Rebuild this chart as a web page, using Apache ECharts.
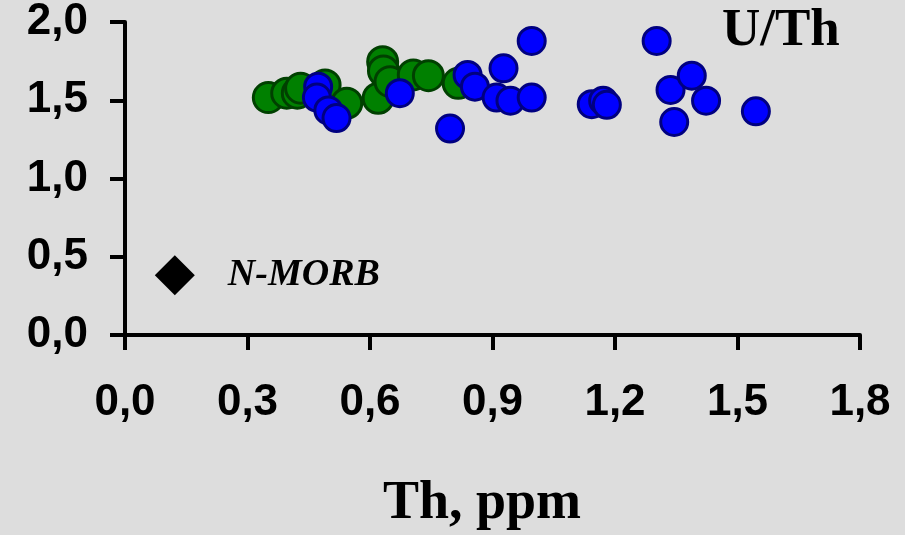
<!DOCTYPE html>
<html>
<head>
<meta charset="utf-8">
<script src="https://cdn.jsdelivr.net/npm/echarts@6/dist/echarts.min.js"></script>
<style>
  html, body { margin: 0; padding: 0; background: #dddddd; }
  #chart { width: 905px; height: 535px; }
</style>
</head>
<body>
<div id="chart"></div>
<script>
// Th (ppm) vs U/Th ratio
const groupGreenTh = [0.351, 0.396, 0.422, 0.430, 0.490, 0.543, 0.620, 0.631, 0.633, 0.649, 0.706, 0.743, 0.816];
const groupGreenUTh = [1.517, 1.545, 1.545, 1.577, 1.598, 1.481, 1.513, 1.746, 1.687, 1.619, 1.662, 1.657, 1.608];

const groupBlueTh = [0.473, 0.470, 0.498, 0.518, 0.673, 0.796, 0.839, 0.857, 0.910, 0.927, 0.944, 0.996, 0.996,
                     1.143, 1.171, 1.180, 1.302, 1.336, 1.388, 1.423, 1.345, 1.545];
const groupBlueUTh = [1.587, 1.517, 1.435, 1.386, 1.545, 1.319, 1.662, 1.587, 1.517, 1.704, 1.497, 1.517, 1.879,
                      1.475, 1.497, 1.471, 1.879, 1.566, 1.657, 1.497, 1.361, 1.429];

const nmorbTh = [0.122];
const nmorbUTh = [0.381];

const xTicks = [0.0, 0.3, 0.6, 0.9, 1.2, 1.5, 1.8];
const yTicks = [0.0, 0.5, 1.0, 1.5, 2.0];

const pairs = (xs, ys) => xs.map((x, i) => [x, ys[i]]);
const comma = v => v.toFixed(1).replace('.', ',');

const chart = echarts.init(document.getElementById('chart'));

const axisStyle = {
  axisLine: { lineStyle: { color: '#000', width: 4 } },
  axisTick: { show: true, inside: false, length: 15, lineStyle: { color: '#000', width: 4 } },
  splitLine: { show: false }
};

chart.setOption({
  backgroundColor: '#dddddd',
  animation: false,
  grid: { left: 125, right: 45, top: 20, bottom: 200, containLabel: false },
  xAxis: Object.assign({
    type: 'value',
    min: xTicks[0],
    max: xTicks[xTicks.length - 1],
    interval: xTicks[1] - xTicks[0],
    axisLabel: {
      formatter: comma,
      margin: 46,
      color: '#000',
      fontFamily: 'Liberation Sans, Arial, sans-serif',
      fontWeight: 'bold',
      fontSize: 44
    }
  }, axisStyle),
  yAxis: Object.assign({
    type: 'value',
    min: yTicks[0],
    max: yTicks[yTicks.length - 1],
    interval: yTicks[1] - yTicks[0],
    axisLabel: {
      formatter: comma,
      margin: 37,
      color: '#000',
      fontFamily: 'Liberation Sans, Arial, sans-serif',
      fontWeight: 'bold',
      fontSize: 44
    }
  }, axisStyle),
  graphic: [
    {
      type: 'text',
      left: 722,
      top: 5,
      style: {
        text: 'U/Th',
        fill: '#000',
        font: 'bold 53px "Liberation Serif", "Times New Roman", serif'
      }
    },
    {
      type: 'text',
      x: 482,
      y: 504,
      style: {
        text: 'Th, ppm',
        fill: '#000',
        align: 'center',
        verticalAlign: 'middle',
        font: 'bold 54px "Liberation Serif", "Times New Roman", serif'
      }
    }
  ],
  series: [
    {
      name: 'N-MORB',
      type: 'scatter',
      symbol: 'diamond',
      symbolSize: 40,
      itemStyle: { color: '#000', opacity: 1 },
      label: {
        show: true,
        position: 'right',
        distance: 33,
        formatter: 'N-MORB',
        color: '#000',
        opacity: 1,
        fontFamily: 'Liberation Serif, Times New Roman, serif',
        fontStyle: 'italic',
        fontWeight: 'bold',
        fontSize: 38
      },
      data: pairs(nmorbTh, nmorbUTh)
    },
    {
      name: 'green',
      type: 'scatter',
      symbolSize: 30,
      itemStyle: { color: '#008000', borderColor: '#004000', borderWidth: 3, opacity: 1 },
      data: pairs(groupGreenTh, groupGreenUTh)
    },
    {
      name: 'blue',
      type: 'scatter',
      symbolSize: 27,
      itemStyle: { color: '#0000ff', borderColor: '#000080', borderWidth: 3, opacity: 1 },
      data: pairs(groupBlueTh, groupBlueUTh)
    }
  ]
});
</script>
</body>
</html>
